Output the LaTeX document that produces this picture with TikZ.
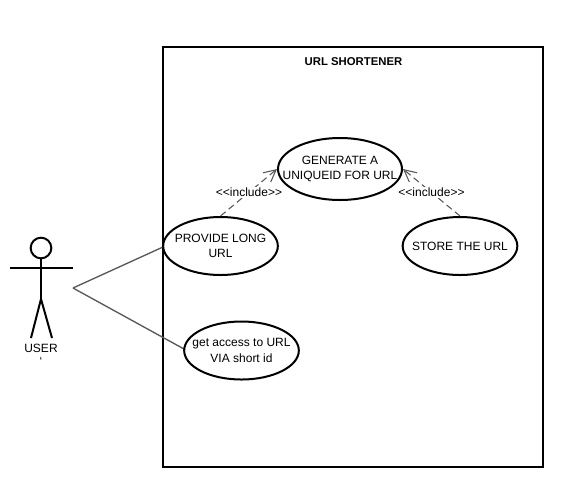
\documentclass[tikz,border=0pt]{standalone}
\usepackage{fontspec}
\setmainfont{Liberation Sans}
\usetikzlibrary{arrows.meta,shapes.geometric}
\tikzset{
  usecase/.style={ellipse,draw=black,line width=1.5pt,fill=white,inner xsep=-25pt,inner ysep=-15pt,minimum width=86pt,minimum height=43.5pt,align=center,font=\fontsize{9}{11.5}\selectfont},
  lbl/.style={inner sep=0.5pt,font=\fontsize{9}{11}\selectfont,fill=white},
  assoc/.style={draw=black!65,line width=1pt},
  incl/.style={draw=black!65,line width=0.8pt,dash pattern=on 5pt off 3pt,-{Straight Barb[length=9pt,width=9pt,line width=0.8pt]}},
  actorline/.style={draw=black,line width=1.5pt},
}
\begin{document}
\begin{tikzpicture}[x=0.75pt,y=-0.75pt]
\useasboundingbox (0,0) rectangle (563,486);
\fill[white] (0,0) rectangle (563,486);
\node[draw=black,line width=1.5pt,minimum width=285pt,minimum height=315pt,inner sep=0pt] (frame) at (353,257) {};
\node[inner sep=0pt,font=\bfseries\fontsize{8.5}{10}\selectfont] (title) at (353.5,61.5) {URL SHORTENER};
\coordinate (hub) at (73,288);
\draw[assoc] (hub) -- (163,247);
\draw[assoc] (hub) -- (184,349);
\node[usecase,minimum width=93pt,minimum height=46.5pt] (gen) at (340,169) {GENERATE A\\UNIQUEID FOR URL};
\node[usecase] (prov) at (220.5,246) {PROVIDE LONG\\URL};
\node[usecase] (store) at (460,246) {STORE THE URL};
\node[usecase] (get) at (241.5,350.5) {get access to URL\\VIA short id};
\draw[incl] (prov.north) -- (gen.west);
\draw[incl] (store.north) -- (gen.east);
\node[lbl] (l1) at (249,192.5) {<{}<include>{}>};
\node[lbl] (l2) at (431.5,192.5) {<{}<include>{}>};
\node[circle,draw=black,line width=1.5pt,minimum size=15.5pt,inner sep=0pt] (head) at (41,248) {};
\coordinate (armL) at (10,268);
\coordinate (armR) at (73,268);
\coordinate (hip) at (41,299);
\coordinate (footL) at (31,338);
\coordinate (footR) at (52,338);
\draw[actorline] (armL) -- (armR);
\draw[actorline] (head.south) -- (hip);
\draw[actorline] (footL) -- (hip) -- (footR);
\node[inner sep=0pt,font=\fontsize{9}{11}\selectfont] (user) at (41,348) {USER};
\node[inner sep=0pt,font=\fontsize{9}{11}\selectfont] (tick) at (41,361) {`};
\end{tikzpicture}
\end{document}
